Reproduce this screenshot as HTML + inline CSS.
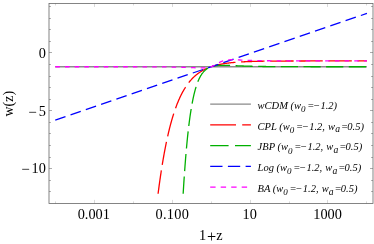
<!DOCTYPE html>
<html><head><meta charset="utf-8"><style>
html,body{margin:0;padding:0;background:#fff;}
svg{display:block;font-family:"Liberation Serif",serif;will-change:transform;}
text{fill:#000;}
</style></head><body>
<svg width="374" height="244" viewBox="0 0 374 244">
<rect width="374" height="244" fill="#fff"/>
<g id="curves">
<path d="M55.25 66.74 L366.93 66.74" fill="none" stroke="#8a8a8a" stroke-width="1.3"/>
<path d="M158.09 193.70 L158.10 193.55 L158.30 192.03 L158.49 190.53 L158.69 189.05 L158.88 187.58 L159.08 186.13 L159.27 184.70 L159.47 183.28 L159.66 181.88 L159.86 180.50 L160.05 179.13 L160.25 177.78 L160.44 176.44 L160.64 175.12 L160.83 173.81 L161.03 172.52 L161.22 171.24 L161.42 169.98 L161.61 168.73 L161.81 167.50 L162.00 166.28 L162.20 165.07 L162.39 163.88 L162.58 162.70 L162.78 161.54 L162.97 160.39 L163.17 159.25 L163.36 158.12 L163.56 157.01 L163.75 155.91 L163.95 154.82 L164.14 153.75 L164.34 152.69 L164.53 151.64 L164.73 150.60 L164.92 149.57 L165.12 148.56 L165.31 147.56 L165.51 146.56 L165.70 145.58 L165.90 144.62 L166.09 143.66 L166.29 142.71 L166.48 141.78 L166.68 140.85 L166.87 139.94 L167.07 139.03 L167.26 138.14 L167.45 137.25 L167.65 136.38 L167.84 135.52 L168.04 134.66 L168.23 133.82 L168.43 132.99 L168.62 132.16 L168.82 131.35 L169.01 130.54 L169.21 129.74 L169.40 128.96 L169.60 128.18 L169.79 127.41 L169.99 126.65 L170.18 125.90 L170.38 125.15 L170.57 124.42 L170.77 123.69 L170.96 122.97 L171.16 122.26 L171.35 121.56 L171.55 120.87 L171.74 120.18 L171.94 119.50 L172.13 118.83 L172.32 118.17 L172.52 117.52 L172.71 116.87 L172.91 116.23 L173.10 115.60 L173.30 114.97 L173.49 114.35 L173.69 113.74 L173.88 113.14 L174.08 112.54 L174.27 111.95 L174.47 111.36 L174.66 110.79 L174.86 110.22 L175.05 109.65 L175.25 109.10 L175.44 108.54 L175.64 108.00 L175.83 107.46 L176.03 106.93 L176.22 106.40 L176.42 105.88 L176.61 105.37 L176.81 104.86 L177.00 104.36 L177.19 103.86 L177.39 103.37 L177.58 102.88 L177.78 102.40 L177.97 101.93 L178.17 101.46 L178.36 101.00 L178.56 100.54 L178.75 100.08 L178.95 99.64 L179.14 99.19 L179.34 98.76 L179.53 98.32 L179.73 97.90 L179.92 97.47 L180.12 97.05 L180.31 96.64 L180.51 96.23 L180.70 95.83 L180.90 95.43 L181.09 95.04 L181.29 94.65 L181.48 94.26 L181.68 93.88 L181.87 93.50 L182.06 93.13 L182.26 92.76 L182.45 92.40 L182.65 92.04 L182.84 91.68 L183.04 91.33 L183.23 90.98 L183.43 90.64 L183.62 90.30 L183.82 89.96 L184.01 89.63 L184.21 89.30 L184.40 88.98 L184.60 88.66 L184.79 88.34 L184.99 88.03 L185.18 87.72 L185.38 87.41 L185.57 87.11 L185.77 86.81 L185.96 86.51 L186.16 86.22 L186.35 85.93 L186.55 85.64 L186.74 85.36 L186.93 85.08 L187.13 84.81 L187.32 84.53 L187.52 84.26 L187.71 84.00 L187.91 83.73 L188.10 83.47 L188.30 83.21 L188.49 82.96 L188.69 82.71 L188.88 82.46 L189.08 82.21 L189.27 81.97 L189.47 81.73 L189.66 81.49 L189.86 81.25 L190.05 81.02 L190.25 80.79 L190.44 80.57 L190.64 80.34 L190.83 80.12 L191.03 79.90 L191.22 79.68 L191.42 79.47 L191.61 79.26 L191.80 79.05 L192.00 78.84 L192.19 78.64 L192.39 78.43 L192.58 78.23 L192.78 78.03 L192.97 77.84 L193.17 77.65 L193.36 77.45 L193.56 77.27 L193.75 77.08 L193.95 76.89 L194.14 76.71 L194.34 76.53 L194.53 76.35 L194.73 76.18 L194.92 76.00 L195.12 75.83 L195.31 75.66 L195.51 75.49 L195.70 75.33 L195.90 75.16 L196.09 75.00 L196.29 74.84 L196.48 74.68 L196.67 74.52 L196.87 74.37 L197.06 74.21 L197.26 74.06 L197.45 73.91 L197.65 73.76 L197.84 73.62 L198.04 73.47 L198.23 73.33 L198.43 73.19 L198.62 73.05 L198.82 72.91 L199.01 72.77 L199.21 72.64 L199.40 72.50 L199.60 72.37 L199.79 72.24 L199.99 72.11 L200.18 71.98 L200.38 71.86 L200.57 71.73 L200.77 71.61 L200.96 71.49 L201.16 71.37 L201.35 71.25 L201.54 71.13 L201.74 71.01 L201.93 70.90 L202.13 70.78 L202.32 70.67 L202.52 70.56 L202.71 70.45 L202.91 70.34 L203.10 70.23 L203.30 70.13 L203.49 70.02 L203.69 69.92 L203.88 69.82 L204.08 69.71 L204.27 69.61 L204.47 69.51 L204.66 69.42 L204.86 69.32 L205.05 69.22 L205.25 69.13 L205.44 69.04 L205.64 68.94 L205.83 68.85 L206.03 68.76 L206.22 68.67 L206.41 68.58 L206.61 68.50 L206.80 68.41 L207.00 68.32 L207.19 68.24 L207.39 68.16 L207.58 68.07 L207.78 67.99 L207.97 67.91 L208.17 67.83 L208.36 67.75 L208.56 67.68 L208.75 67.60 L208.95 67.52 L209.14 67.45 L209.34 67.37 L209.53 67.30 L209.73 67.23 L209.92 67.16 L210.12 67.08 L210.31 67.01 L210.51 66.94 L210.70 66.88 L210.90 66.81 L211.09 66.74 L211.28 66.67 L211.48 66.61 L211.67 66.54 L211.87 66.48 L212.06 66.42 L212.26 66.35 L212.45 66.29 L212.65 66.23 L212.84 66.17 L213.04 66.11 L213.23 66.05 L213.43 65.99 L213.62 65.94 L213.82 65.88 L214.01 65.82 L214.21 65.77 L214.40 65.71 L214.60 65.66 L214.79 65.60 L214.99 65.55 L215.18 65.50 L215.38 65.45 L215.57 65.39 L215.77 65.34 L215.96 65.29 L216.15 65.24 L216.35 65.19 L216.54 65.15 L216.74 65.10 L216.93 65.05 L217.13 65.00 L217.32 64.96 L217.52 64.91 L217.71 64.87 L217.91 64.82 L218.10 64.78 L218.30 64.73 L218.49 64.69 L218.69 64.65 L218.88 64.61 L219.08 64.56 L219.27 64.52 L219.47 64.48 L219.66 64.44 L219.86 64.40 L220.05 64.36 L220.25 64.32 L220.44 64.28 L220.64 64.25 L220.83 64.21 L221.02 64.17 L221.22 64.13 L221.41 64.10 L221.61 64.06 L221.80 64.03 L222.00 63.99 L222.19 63.96 L222.39 63.92 L222.58 63.89 L222.78 63.85 L222.97 63.82 L223.17 63.79 L223.36 63.76 L223.56 63.72 L223.75 63.69 L223.95 63.66 L224.14 63.63 L224.34 63.60 L224.53 63.57 L224.73 63.54 L224.92 63.51 L225.12 63.48 L225.31 63.45 L225.51 63.42 L225.70 63.39 L225.89 63.37 L226.09 63.34 L226.28 63.31 L226.48 63.28 L226.67 63.26 L226.87 63.23 L227.06 63.20 L227.26 63.18 L227.45 63.15 L227.65 63.13 L227.84 63.10 L228.04 63.08 L228.23 63.05 L228.43 63.03 L228.62 63.01 L228.82 62.98 L229.01 62.96 L229.21 62.94 L229.40 62.91 L229.60 62.89 L229.79 62.87 L229.99 62.85 L230.18 62.83 L230.38 62.80 L230.57 62.78 L230.76 62.76 L230.96 62.74 L231.15 62.72 L231.35 62.70 L231.54 62.68 L231.74 62.66 L231.93 62.64 L232.13 62.62 L232.32 62.60 L232.52 62.58 L232.71 62.57 L232.91 62.55 L233.10 62.53 L233.30 62.51 L233.49 62.49 L233.69 62.48 L233.88 62.46 L234.08 62.44 L234.27 62.42 L234.47 62.41 L234.66 62.39 L234.86 62.37 L235.05 62.36 L235.25 62.34 L235.44 62.33 L235.63 62.31 L235.83 62.29 L236.02 62.28 L236.22 62.26 L236.41 62.25 L236.61 62.23 L236.80 62.22 L237.00 62.20 L237.19 62.19 L237.39 62.18 L237.58 62.16 L237.78 62.15 L237.97 62.13 L238.17 62.12 L238.36 62.11 L238.56 62.09 L238.75 62.08 L238.95 62.07 L239.14 62.06 L239.34 62.04 L239.53 62.03 L239.73 62.02 L239.92 62.01 L240.12 61.99 L240.31 61.98 L240.50 61.97 L240.70 61.96 L240.89 61.95 L241.09 61.94 L241.28 61.92 L241.48 61.91 L241.67 61.90 L241.87 61.89 L242.06 61.88 L242.26 61.87 L242.45 61.86 L242.65 61.85 L242.84 61.84 L243.04 61.83 L243.23 61.82 L243.43 61.81 L243.62 61.80 L243.82 61.79 L244.01 61.78 L244.21 61.77 L244.40 61.76 L244.60 61.75 L244.79 61.74 L244.99 61.73 L245.18 61.73 L245.37 61.72 L245.57 61.71 L245.76 61.70 L245.96 61.69 L246.15 61.68 L246.35 61.67 L246.54 61.67 L246.74 61.66 L246.93 61.65 L247.13 61.64 L247.32 61.63 L247.52 61.63 L247.71 61.62 L247.91 61.61 L248.10 61.60 L248.30 61.60 L248.49 61.59 L248.69 61.58 L248.88 61.57 L249.08 61.57 L249.27 61.56 L249.47 61.55 L249.66 61.55 L249.86 61.54 L250.05 61.53 L250.24 61.53 L250.44 61.52 L250.63 61.51 L250.83 61.51 L251.02 61.50 L251.22 61.49 L251.41 61.49 L251.61 61.48 L251.80 61.48 L252.00 61.47 L252.19 61.46 L252.39 61.46 L252.58 61.45 L252.78 61.45 L252.97 61.44 L253.17 61.43 L253.36 61.43 L253.56 61.42 L253.75 61.42 L253.95 61.41 L254.14 61.41 L254.34 61.40 L254.53 61.40 L254.73 61.39 L254.92 61.39 L255.11 61.38 L255.31 61.38 L255.50 61.37 L255.70 61.37 L255.89 61.36 L256.09 61.36 L256.28 61.35 L256.48 61.35 L256.67 61.34 L256.87 61.34 L257.06 61.34 L257.26 61.33 L257.45 61.33 L257.65 61.32 L257.84 61.32 L258.04 61.31 L258.23 61.31 L258.43 61.31 L258.62 61.30 L258.82 61.30 L259.01 61.29 L259.21 61.29 L259.40 61.29 L259.60 61.28 L259.79 61.28 L259.98 61.27 L260.18 61.27 L260.37 61.27 L260.57 61.26 L260.76 61.26 L260.96 61.26 L261.15 61.25 L261.35 61.25 L261.54 61.25 L261.74 61.24 L261.93 61.24 L262.13 61.24 L262.32 61.23 L262.52 61.23 L262.71 61.23 L262.91 61.22 L263.10 61.22 L263.30 61.22 L263.49 61.21 L263.69 61.21 L263.88 61.21 L264.08 61.21 L264.27 61.20 L264.47 61.20 L264.66 61.20 L264.85 61.19 L265.05 61.19 L265.24 61.19 L265.44 61.19 L265.63 61.18 L265.83 61.18 L266.02 61.18 L266.22 61.18 L266.41 61.17 L266.61 61.17 L266.80 61.17 L267.00 61.17 L267.19 61.16 L267.39 61.16 L267.58 61.16 L267.78 61.16 L267.97 61.15 L268.17 61.15 L268.36 61.15 L268.56 61.15 L268.75 61.14 L268.95 61.14 L269.14 61.14 L269.34 61.14 L269.53 61.14 L269.72 61.13 L269.92 61.13 L270.11 61.13 L270.31 61.13 L270.50 61.13 L270.70 61.12 L270.89 61.12 L271.09 61.12 L271.28 61.12 L271.48 61.12 L271.67 61.11 L271.87 61.11 L272.06 61.11 L272.26 61.11 L272.45 61.11 L272.65 61.11 L272.84 61.10 L273.04 61.10 L273.23 61.10 L273.43 61.10 L273.62 61.10 L273.82 61.10 L274.01 61.09 L274.21 61.09 L274.40 61.09 L274.59 61.09 L274.79 61.09 L274.98 61.09 L275.18 61.08 L275.37 61.08 L275.57 61.08 L275.76 61.08 L275.96 61.08 L276.15 61.08 L276.35 61.08 L276.54 61.07 L276.74 61.07 L276.93 61.07 L277.13 61.07 L277.32 61.07 L277.52 61.07 L277.71 61.07 L277.91 61.06 L278.10 61.06 L278.30 61.06 L278.49 61.06 L278.69 61.06 L278.88 61.06 L279.08 61.06 L279.27 61.06 L279.46 61.05 L279.66 61.05 L279.85 61.05 L280.05 61.05 L280.24 61.05 L280.44 61.05 L280.63 61.05 L280.83 61.05 L281.02 61.05 L281.22 61.04 L281.41 61.04 L281.61 61.04 L281.80 61.04 L282.00 61.04 L282.19 61.04 L282.39 61.04 L282.58 61.04 L282.78 61.04 L282.97 61.04 L283.17 61.03 L283.36 61.03 L283.56 61.03 L283.75 61.03 L283.95 61.03 L284.14 61.03 L284.33 61.03 L284.53 61.03 L284.72 61.03 L284.92 61.03 L285.11 61.03 L285.31 61.03 L285.50 61.02 L285.70 61.02 L285.89 61.02 L286.09 61.02 L286.28 61.02 L286.48 61.02 L286.67 61.02 L286.87 61.02 L287.06 61.02 L287.26 61.02 L287.45 61.02 L287.65 61.02 L287.84 61.02 L288.04 61.01 L288.23 61.01 L288.43 61.01 L288.62 61.01 L288.82 61.01 L289.01 61.01 L289.20 61.01 L289.40 61.01 L289.59 61.01 L289.79 61.01 L289.98 61.01 L290.18 61.01 L290.37 61.01 L290.57 61.01 L290.76 61.01 L290.96 61.00 L291.15 61.00 L291.35 61.00 L291.54 61.00 L291.74 61.00 L291.93 61.00 L292.13 61.00 L292.32 61.00 L292.52 61.00 L292.71 61.00 L292.91 61.00 L293.10 61.00 L293.30 61.00 L293.49 61.00 L293.69 61.00 L293.88 61.00 L294.07 61.00 L294.27 61.00 L294.46 61.00 L294.66 60.99 L294.85 60.99 L295.05 60.99 L295.24 60.99 L295.44 60.99 L295.63 60.99 L295.83 60.99 L296.02 60.99 L296.22 60.99 L296.41 60.99 L296.61 60.99 L296.80 60.99 L297.00 60.99 L297.19 60.99 L297.39 60.99 L297.58 60.99 L297.78 60.99 L297.97 60.99 L298.17 60.99 L298.36 60.99 L298.56 60.99 L298.75 60.99 L298.94 60.99 L299.14 60.99 L299.33 60.98 L299.53 60.98 L299.72 60.98 L299.92 60.98 L300.11 60.98 L300.31 60.98 L300.50 60.98 L300.70 60.98 L300.89 60.98 L301.09 60.98 L301.28 60.98 L301.48 60.98 L301.67 60.98 L301.87 60.98 L302.06 60.98 L302.26 60.98 L302.45 60.98 L302.65 60.98 L302.84 60.98 L303.04 60.98 L303.23 60.98 L303.43 60.98 L303.62 60.98 L303.81 60.98 L304.01 60.98 L304.20 60.98 L304.40 60.98 L304.59 60.98 L304.79 60.98 L304.98 60.98 L305.18 60.98 L305.37 60.98 L305.57 60.97 L305.76 60.97 L305.96 60.97 L306.15 60.97 L306.35 60.97 L306.54 60.97 L306.74 60.97 L306.93 60.97 L307.13 60.97 L307.32 60.97 L307.52 60.97 L307.71 60.97 L307.91 60.97 L308.10 60.97 L308.30 60.97 L308.49 60.97 L308.68 60.97 L308.88 60.97 L309.07 60.97 L309.27 60.97 L309.46 60.97 L309.66 60.97 L309.85 60.97 L310.05 60.97 L310.24 60.97 L310.44 60.97 L310.63 60.97 L310.83 60.97 L311.02 60.97 L311.22 60.97 L311.41 60.97 L311.61 60.97 L311.80 60.97 L312.00 60.97 L312.19 60.97 L312.39 60.97 L312.58 60.97 L312.78 60.97 L312.97 60.97 L313.17 60.97 L313.36 60.97 L313.55 60.97 L313.75 60.97 L313.94 60.97 L314.14 60.97 L314.33 60.97 L314.53 60.97 L314.72 60.97 L314.92 60.97 L315.11 60.97 L315.31 60.97 L315.50 60.97 L315.70 60.97 L315.89 60.97 L316.09 60.96 L316.28 60.96 L316.48 60.96 L316.67 60.96 L316.87 60.96 L317.06 60.96 L317.26 60.96 L317.45 60.96 L317.65 60.96 L317.84 60.96 L318.04 60.96 L318.23 60.96 L318.42 60.96 L318.62 60.96 L318.81 60.96 L319.01 60.96 L319.20 60.96 L319.40 60.96 L319.59 60.96 L319.79 60.96 L319.98 60.96 L320.18 60.96 L320.37 60.96 L320.57 60.96 L320.76 60.96 L320.96 60.96 L321.15 60.96 L321.35 60.96 L321.54 60.96 L321.74 60.96 L321.93 60.96 L322.13 60.96 L322.32 60.96 L322.52 60.96 L322.71 60.96 L322.91 60.96 L323.10 60.96 L323.29 60.96 L323.49 60.96 L323.68 60.96 L323.88 60.96 L324.07 60.96 L324.27 60.96 L324.46 60.96 L324.66 60.96 L324.85 60.96 L325.05 60.96 L325.24 60.96 L325.44 60.96 L325.63 60.96 L325.83 60.96 L326.02 60.96 L326.22 60.96 L326.41 60.96 L326.61 60.96 L326.80 60.96 L327.00 60.96 L327.19 60.96 L327.39 60.96 L327.58 60.96 L327.78 60.96 L327.97 60.96 L328.16 60.96 L328.36 60.96 L328.55 60.96 L328.75 60.96 L328.94 60.96 L329.14 60.96 L329.33 60.96 L329.53 60.96 L329.72 60.96 L329.92 60.96 L330.11 60.96 L330.31 60.96 L330.50 60.96 L330.70 60.96 L330.89 60.96 L331.09 60.96 L331.28 60.96 L331.48 60.96 L331.67 60.96 L331.87 60.96 L332.06 60.96 L332.26 60.96 L332.45 60.96 L332.65 60.96 L332.84 60.96 L333.03 60.96 L333.23 60.96 L333.42 60.96 L333.62 60.96 L333.81 60.96 L334.01 60.96 L334.20 60.96 L334.40 60.96 L334.59 60.96 L334.79 60.96 L334.98 60.96 L335.18 60.96 L335.37 60.96 L335.57 60.96 L335.76 60.96 L335.96 60.96 L336.15 60.96 L336.35 60.96 L336.54 60.96 L336.74 60.96 L336.93 60.96 L337.13 60.96 L337.32 60.96 L337.52 60.96 L337.71 60.96 L337.90 60.96 L338.10 60.96 L338.29 60.96 L338.49 60.96 L338.68 60.96 L338.88 60.96 L339.07 60.96 L339.27 60.96 L339.46 60.96 L339.66 60.96 L339.85 60.96 L340.05 60.96 L340.24 60.96 L340.44 60.96 L340.63 60.96 L340.83 60.96 L341.02 60.96 L341.22 60.96 L341.41 60.96 L341.61 60.96 L341.80 60.96 L342.00 60.96 L342.19 60.96 L342.39 60.96 L342.58 60.96 L342.77 60.96 L342.97 60.96 L343.16 60.96 L343.36 60.96 L343.55 60.96 L343.75 60.96 L343.94 60.96 L344.14 60.96 L344.33 60.96 L344.53 60.96 L344.72 60.96 L344.92 60.96 L345.11 60.96 L345.31 60.96 L345.50 60.96 L345.70 60.96 L345.89 60.96 L346.09 60.96 L346.28 60.96 L346.48 60.96 L346.67 60.96 L346.87 60.96 L347.06 60.96 L347.26 60.96 L347.45 60.96 L347.64 60.96 L347.84 60.95 L348.03 60.95 L348.23 60.95 L348.42 60.95 L348.62 60.95 L348.81 60.95 L349.01 60.95 L349.20 60.95 L349.40 60.95 L349.59 60.95 L349.79 60.95 L349.98 60.95 L350.18 60.95 L350.37 60.95 L350.57 60.95 L350.76 60.95 L350.96 60.95 L351.15 60.95 L351.35 60.95 L351.54 60.95 L351.74 60.95 L351.93 60.95 L352.13 60.95 L352.32 60.95 L352.51 60.95 L352.71 60.95 L352.90 60.95 L353.10 60.95 L353.29 60.95 L353.49 60.95 L353.68 60.95 L353.88 60.95 L354.07 60.95 L354.27 60.95 L354.46 60.95 L354.66 60.95 L354.85 60.95 L355.05 60.95 L355.24 60.95 L355.44 60.95 L355.63 60.95 L355.83 60.95 L356.02 60.95 L356.22 60.95 L356.41 60.95 L356.61 60.95 L356.80 60.95 L357.00 60.95 L357.19 60.95 L357.38 60.95 L357.58 60.95 L357.77 60.95 L357.97 60.95 L358.16 60.95 L358.36 60.95 L358.55 60.95 L358.75 60.95 L358.94 60.95 L359.14 60.95 L359.33 60.95 L359.53 60.95 L359.72 60.95 L359.92 60.95 L360.11 60.95 L360.31 60.95 L360.50 60.95 L360.70 60.95 L360.89 60.95 L361.09 60.95 L361.28 60.95 L361.48 60.95 L361.67 60.95 L361.87 60.95 L362.06 60.95 L362.25 60.95 L362.45 60.95 L362.64 60.95 L362.84 60.95 L363.03 60.95 L363.23 60.95 L363.42 60.95 L363.62 60.95 L363.81 60.95 L364.01 60.95 L364.20 60.95 L364.40 60.95 L364.59 60.95 L364.79 60.95 L364.98 60.95 L365.18 60.95 L365.37 60.95 L365.57 60.95 L365.76 60.95 L365.96 60.95 L366.15 60.95 L366.35 60.95 L366.54 60.95 L366.74 60.95 L366.93 60.95" fill="none" stroke="#ff0000" stroke-width="1.3" stroke-dasharray="23.5 5.6"/>
<path d="M183.16 193.70 L183.23 192.50 L183.43 189.30 L183.62 186.17 L183.82 183.12 L184.01 180.14 L184.21 177.24 L184.40 174.40 L184.60 171.63 L184.79 168.93 L184.99 166.30 L185.18 163.72 L185.38 161.21 L185.57 158.76 L185.77 156.37 L185.96 154.04 L186.16 151.76 L186.35 149.54 L186.55 147.38 L186.74 145.26 L186.93 143.20 L187.13 141.18 L187.32 139.22 L187.52 137.30 L187.71 135.43 L187.91 133.61 L188.10 131.83 L188.30 130.09 L188.49 128.40 L188.69 126.75 L188.88 125.13 L189.08 123.56 L189.27 122.03 L189.47 120.53 L189.66 119.07 L189.86 117.65 L190.05 116.26 L190.25 114.90 L190.44 113.58 L190.64 112.30 L190.83 111.04 L191.03 109.81 L191.22 108.62 L191.42 107.45 L191.61 106.32 L191.80 105.21 L192.00 104.13 L192.19 103.08 L192.39 102.05 L192.58 101.05 L192.78 100.07 L192.97 99.12 L193.17 98.19 L193.36 97.29 L193.56 96.40 L193.75 95.54 L193.95 94.71 L194.14 93.89 L194.34 93.09 L194.53 92.32 L194.73 91.56 L194.92 90.82 L195.12 90.10 L195.31 89.40 L195.51 88.72 L195.70 88.06 L195.90 87.41 L196.09 86.78 L196.29 86.16 L196.48 85.56 L196.67 84.98 L196.87 84.41 L197.06 83.86 L197.26 83.32 L197.45 82.79 L197.65 82.28 L197.84 81.78 L198.04 81.30 L198.23 80.82 L198.43 80.36 L198.62 79.91 L198.82 79.48 L199.01 79.05 L199.21 78.64 L199.40 78.24 L199.60 77.84 L199.79 77.46 L199.99 77.09 L200.18 76.73 L200.38 76.38 L200.57 76.03 L200.77 75.70 L200.96 75.37 L201.16 75.06 L201.35 74.75 L201.54 74.45 L201.74 74.16 L201.93 73.88 L202.13 73.60 L202.32 73.34 L202.52 73.08 L202.71 72.82 L202.91 72.58 L203.10 72.34 L203.30 72.11 L203.49 71.88 L203.69 71.66 L203.88 71.45 L204.08 71.24 L204.27 71.04 L204.47 70.84 L204.66 70.65 L204.86 70.47 L205.05 70.29 L205.25 70.11 L205.44 69.94 L205.64 69.78 L205.83 69.62 L206.03 69.47 L206.22 69.32 L206.41 69.17 L206.61 69.03 L206.80 68.89 L207.00 68.76 L207.19 68.63 L207.39 68.50 L207.58 68.38 L207.78 68.26 L207.97 68.15 L208.17 68.04 L208.36 67.93 L208.56 67.83 L208.75 67.73 L208.95 67.63 L209.14 67.53 L209.34 67.44 L209.53 67.35 L209.73 67.27 L209.92 67.18 L210.12 67.10 L210.31 67.03 L210.51 66.95 L210.70 66.88 L210.90 66.81 L211.09 66.74 L211.28 66.68 L211.48 66.61 L211.67 66.55 L211.87 66.49 L212.06 66.44 L212.26 66.38 L212.45 66.33 L212.65 66.28 L212.84 66.23 L213.04 66.18 L213.23 66.13 L213.43 66.09 L213.62 66.05 L213.82 66.01 L214.01 65.97 L214.21 65.93 L214.40 65.90 L214.60 65.86 L214.79 65.83 L214.99 65.80 L215.18 65.77 L215.38 65.74 L215.57 65.71 L215.77 65.68 L215.96 65.66 L216.15 65.63 L216.35 65.61 L216.54 65.59 L216.74 65.56 L216.93 65.54 L217.13 65.53 L217.32 65.51 L217.52 65.49 L217.71 65.47 L217.91 65.46 L218.10 65.44 L218.30 65.43 L218.49 65.42 L218.69 65.40 L218.88 65.39 L219.08 65.38 L219.27 65.37 L219.47 65.36 L219.66 65.36 L219.86 65.35 L220.05 65.34 L220.25 65.33 L220.44 65.33 L220.64 65.32 L220.83 65.32 L221.02 65.31 L221.22 65.31 L221.41 65.31 L221.61 65.30 L221.80 65.30 L222.00 65.30 L222.19 65.30 L222.39 65.30 L222.58 65.29 L222.78 65.29 L222.97 65.29 L223.17 65.29 L223.36 65.30 L223.56 65.30 L223.75 65.30 L223.95 65.30 L224.14 65.30 L224.34 65.30 L224.53 65.31 L224.73 65.31 L224.92 65.31 L225.12 65.32 L225.31 65.32 L225.51 65.33 L225.70 65.33 L225.89 65.33 L226.09 65.34 L226.28 65.34 L226.48 65.35 L226.67 65.35 L226.87 65.36 L227.06 65.37 L227.26 65.37 L227.45 65.38 L227.65 65.38 L227.84 65.39 L228.04 65.40 L228.23 65.40 L228.43 65.41 L228.62 65.42 L228.82 65.42 L229.01 65.43 L229.21 65.44 L229.40 65.44 L229.60 65.45 L229.79 65.46 L229.99 65.47 L230.18 65.47 L230.38 65.48 L230.57 65.49 L230.76 65.50 L230.96 65.51 L231.15 65.51 L231.35 65.52 L231.54 65.53 L231.74 65.54 L231.93 65.55 L232.13 65.55 L232.32 65.56 L232.52 65.57 L232.71 65.58 L232.91 65.59 L233.10 65.59 L233.30 65.60 L233.49 65.61 L233.69 65.62 L233.88 65.63 L234.08 65.64 L234.27 65.64 L234.47 65.65 L234.66 65.66 L234.86 65.67 L235.05 65.68 L235.25 65.69 L235.44 65.69 L235.63 65.70 L235.83 65.71 L236.02 65.72 L236.22 65.73 L236.41 65.74 L236.61 65.74 L236.80 65.75 L237.00 65.76 L237.19 65.77 L237.39 65.78 L237.58 65.78 L237.78 65.79 L237.97 65.80 L238.17 65.81 L238.36 65.82 L238.56 65.82 L238.75 65.83 L238.95 65.84 L239.14 65.85 L239.34 65.86 L239.53 65.86 L239.73 65.87 L239.92 65.88 L240.12 65.89 L240.31 65.89 L240.50 65.90 L240.70 65.91 L240.89 65.92 L241.09 65.93 L241.28 65.93 L241.48 65.94 L241.67 65.95 L241.87 65.95 L242.06 65.96 L242.26 65.97 L242.45 65.98 L242.65 65.98 L242.84 65.99 L243.04 66.00 L243.23 66.00 L243.43 66.01 L243.62 66.02 L243.82 66.03 L244.01 66.03 L244.21 66.04 L244.40 66.05 L244.60 66.05 L244.79 66.06 L244.99 66.07 L245.18 66.07 L245.37 66.08 L245.57 66.09 L245.76 66.09 L245.96 66.10 L246.15 66.10 L246.35 66.11 L246.54 66.12 L246.74 66.12 L246.93 66.13 L247.13 66.14 L247.32 66.14 L247.52 66.15 L247.71 66.15 L247.91 66.16 L248.10 66.16 L248.30 66.17 L248.49 66.18 L248.69 66.18 L248.88 66.19 L249.08 66.19 L249.27 66.20 L249.47 66.20 L249.66 66.21 L249.86 66.21 L250.05 66.22 L250.24 66.23 L250.44 66.23 L250.63 66.24 L250.83 66.24 L251.02 66.25 L251.22 66.25 L251.41 66.26 L251.61 66.26 L251.80 66.27 L252.00 66.27 L252.19 66.28 L252.39 66.28 L252.58 66.29 L252.78 66.29 L252.97 66.30 L253.17 66.30 L253.36 66.30 L253.56 66.31 L253.75 66.31 L253.95 66.32 L254.14 66.32 L254.34 66.33 L254.53 66.33 L254.73 66.34 L254.92 66.34 L255.11 66.34 L255.31 66.35 L255.50 66.35 L255.70 66.36 L255.89 66.36 L256.09 66.36 L256.28 66.37 L256.48 66.37 L256.67 66.38 L256.87 66.38 L257.06 66.38 L257.26 66.39 L257.45 66.39 L257.65 66.40 L257.84 66.40 L258.04 66.40 L258.23 66.41 L258.43 66.41 L258.62 66.41 L258.82 66.42 L259.01 66.42 L259.21 66.42 L259.40 66.43 L259.60 66.43 L259.79 66.43 L259.98 66.44 L260.18 66.44 L260.37 66.44 L260.57 66.45 L260.76 66.45 L260.96 66.45 L261.15 66.46 L261.35 66.46 L261.54 66.46 L261.74 66.47 L261.93 66.47 L262.13 66.47 L262.32 66.47 L262.52 66.48 L262.71 66.48 L262.91 66.48 L263.10 66.49 L263.30 66.49 L263.49 66.49 L263.69 66.49 L263.88 66.50 L264.08 66.50 L264.27 66.50 L264.47 66.50 L264.66 66.51 L264.85 66.51 L265.05 66.51 L265.24 66.52 L265.44 66.52 L265.63 66.52 L265.83 66.52 L266.02 66.52 L266.22 66.53 L266.41 66.53 L266.61 66.53 L266.80 66.53 L267.00 66.54 L267.19 66.54 L267.39 66.54 L267.58 66.54 L267.78 66.55 L267.97 66.55 L268.17 66.55 L268.36 66.55 L268.56 66.55 L268.75 66.56 L268.95 66.56 L269.14 66.56 L269.34 66.56 L269.53 66.56 L269.72 66.57 L269.92 66.57 L270.11 66.57 L270.31 66.57 L270.50 66.57 L270.70 66.58 L270.89 66.58 L271.09 66.58 L271.28 66.58 L271.48 66.58 L271.67 66.58 L271.87 66.59 L272.06 66.59 L272.26 66.59 L272.45 66.59 L272.65 66.59 L272.84 66.59 L273.04 66.60 L273.23 66.60 L273.43 66.60 L273.62 66.60 L273.82 66.60 L274.01 66.60 L274.21 66.61 L274.40 66.61 L274.59 66.61 L274.79 66.61 L274.98 66.61 L275.18 66.61 L275.37 66.61 L275.57 66.62 L275.76 66.62 L275.96 66.62 L276.15 66.62 L276.35 66.62 L276.54 66.62 L276.74 66.62 L276.93 66.63 L277.13 66.63 L277.32 66.63 L277.52 66.63 L277.71 66.63 L277.91 66.63 L278.10 66.63 L278.30 66.63 L278.49 66.64 L278.69 66.64 L278.88 66.64 L279.08 66.64 L279.27 66.64 L279.46 66.64 L279.66 66.64 L279.85 66.64 L280.05 66.64 L280.24 66.65 L280.44 66.65 L280.63 66.65 L280.83 66.65 L281.02 66.65 L281.22 66.65 L281.41 66.65 L281.61 66.65 L281.80 66.65 L282.00 66.65 L282.19 66.66 L282.39 66.66 L282.58 66.66 L282.78 66.66 L282.97 66.66 L283.17 66.66 L283.36 66.66 L283.56 66.66 L283.75 66.66 L283.95 66.66 L284.14 66.67 L284.33 66.67 L284.53 66.67 L284.72 66.67 L284.92 66.67 L285.11 66.67 L285.31 66.67 L285.50 66.67 L285.70 66.67 L285.89 66.67 L286.09 66.67 L286.28 66.67 L286.48 66.67 L286.67 66.68 L286.87 66.68 L287.06 66.68 L287.26 66.68 L287.45 66.68 L287.65 66.68 L287.84 66.68 L288.04 66.68 L288.23 66.68 L288.43 66.68 L288.62 66.68 L288.82 66.68 L289.01 66.68 L289.20 66.68 L289.40 66.69 L289.59 66.69 L289.79 66.69 L289.98 66.69 L290.18 66.69 L290.37 66.69 L290.57 66.69 L290.76 66.69 L290.96 66.69 L291.15 66.69 L291.35 66.69 L291.54 66.69 L291.74 66.69 L291.93 66.69 L292.13 66.69 L292.32 66.69 L292.52 66.69 L292.71 66.70 L292.91 66.70 L293.10 66.70 L293.30 66.70 L293.49 66.70 L293.69 66.70 L293.88 66.70 L294.07 66.70 L294.27 66.70 L294.46 66.70 L294.66 66.70 L294.85 66.70 L295.05 66.70 L295.24 66.70 L295.44 66.70 L295.63 66.70 L295.83 66.70 L296.02 66.70 L296.22 66.70 L296.41 66.70 L296.61 66.70 L296.80 66.70 L297.00 66.71 L297.19 66.71 L297.39 66.71 L297.58 66.71 L297.78 66.71 L297.97 66.71 L298.17 66.71 L298.36 66.71 L298.56 66.71 L298.75 66.71 L298.94 66.71 L299.14 66.71 L299.33 66.71 L299.53 66.71 L299.72 66.71 L299.92 66.71 L300.11 66.71 L300.31 66.71 L300.50 66.71 L300.70 66.71 L300.89 66.71 L301.09 66.71 L301.28 66.71 L301.48 66.71 L301.67 66.71 L301.87 66.71 L302.06 66.71 L302.26 66.71 L302.45 66.72 L302.65 66.72 L302.84 66.72 L303.04 66.72 L303.23 66.72 L303.43 66.72 L303.62 66.72 L303.81 66.72 L304.01 66.72 L304.20 66.72 L304.40 66.72 L304.59 66.72 L304.79 66.72 L304.98 66.72 L305.18 66.72 L305.37 66.72 L305.57 66.72 L305.76 66.72 L305.96 66.72 L306.15 66.72 L306.35 66.72 L306.54 66.72 L306.74 66.72 L306.93 66.72 L307.13 66.72 L307.32 66.72 L307.52 66.72 L307.71 66.72 L307.91 66.72 L308.10 66.72 L308.30 66.72 L308.49 66.72 L308.68 66.72 L308.88 66.72 L309.07 66.72 L309.27 66.72 L309.46 66.72 L309.66 66.72 L309.85 66.72 L310.05 66.72 L310.24 66.72 L310.44 66.72 L310.63 66.73 L310.83 66.73 L311.02 66.73 L311.22 66.73 L311.41 66.73 L311.61 66.73 L311.80 66.73 L312.00 66.73 L312.19 66.73 L312.39 66.73 L312.58 66.73 L312.78 66.73 L312.97 66.73 L313.17 66.73 L313.36 66.73 L313.55 66.73 L313.75 66.73 L313.94 66.73 L314.14 66.73 L314.33 66.73 L314.53 66.73 L314.72 66.73 L314.92 66.73 L315.11 66.73 L315.31 66.73 L315.50 66.73 L315.70 66.73 L315.89 66.73 L316.09 66.73 L316.28 66.73 L316.48 66.73 L316.67 66.73 L316.87 66.73 L317.06 66.73 L317.26 66.73 L317.45 66.73 L317.65 66.73 L317.84 66.73 L318.04 66.73 L318.23 66.73 L318.42 66.73 L318.62 66.73 L318.81 66.73 L319.01 66.73 L319.20 66.73 L319.40 66.73 L319.59 66.73 L319.79 66.73 L319.98 66.73 L320.18 66.73 L320.37 66.73 L320.57 66.73 L320.76 66.73 L320.96 66.73 L321.15 66.73 L321.35 66.73 L321.54 66.73 L321.74 66.73 L321.93 66.73 L322.13 66.73 L322.32 66.73 L322.52 66.73 L322.71 66.73 L322.91 66.73 L323.10 66.73 L323.29 66.73 L323.49 66.73 L323.68 66.73 L323.88 66.73 L324.07 66.73 L324.27 66.73 L324.46 66.73 L324.66 66.73 L324.85 66.73 L325.05 66.73 L325.24 66.73 L325.44 66.73 L325.63 66.73 L325.83 66.73 L326.02 66.73 L326.22 66.73 L326.41 66.73 L326.61 66.73 L326.80 66.74 L327.00 66.74 L327.19 66.74 L327.39 66.74 L327.58 66.74 L327.78 66.74 L327.97 66.74 L328.16 66.74 L328.36 66.74 L328.55 66.74 L328.75 66.74 L328.94 66.74 L329.14 66.74 L329.33 66.74 L329.53 66.74 L329.72 66.74 L329.92 66.74 L330.11 66.74 L330.31 66.74 L330.50 66.74 L330.70 66.74 L330.89 66.74 L331.09 66.74 L331.28 66.74 L331.48 66.74 L331.67 66.74 L331.87 66.74 L332.06 66.74 L332.26 66.74 L332.45 66.74 L332.65 66.74 L332.84 66.74 L333.03 66.74 L333.23 66.74 L333.42 66.74 L333.62 66.74 L333.81 66.74 L334.01 66.74 L334.20 66.74 L334.40 66.74 L334.59 66.74 L334.79 66.74 L334.98 66.74 L335.18 66.74 L335.37 66.74 L335.57 66.74 L335.76 66.74 L335.96 66.74 L336.15 66.74 L336.35 66.74 L336.54 66.74 L336.74 66.74 L336.93 66.74 L337.13 66.74 L337.32 66.74 L337.52 66.74 L337.71 66.74 L337.90 66.74 L338.10 66.74 L338.29 66.74 L338.49 66.74 L338.68 66.74 L338.88 66.74 L339.07 66.74 L339.27 66.74 L339.46 66.74 L339.66 66.74 L339.85 66.74 L340.05 66.74 L340.24 66.74 L340.44 66.74 L340.63 66.74 L340.83 66.74 L341.02 66.74 L341.22 66.74 L341.41 66.74 L341.61 66.74 L341.80 66.74 L342.00 66.74 L342.19 66.74 L342.39 66.74 L342.58 66.74 L342.77 66.74 L342.97 66.74 L343.16 66.74 L343.36 66.74 L343.55 66.74 L343.75 66.74 L343.94 66.74 L344.14 66.74 L344.33 66.74 L344.53 66.74 L344.72 66.74 L344.92 66.74 L345.11 66.74 L345.31 66.74 L345.50 66.74 L345.70 66.74 L345.89 66.74 L346.09 66.74 L346.28 66.74 L346.48 66.74 L346.67 66.74 L346.87 66.74 L347.06 66.74 L347.26 66.74 L347.45 66.74 L347.64 66.74 L347.84 66.74 L348.03 66.74 L348.23 66.74 L348.42 66.74 L348.62 66.74 L348.81 66.74 L349.01 66.74 L349.20 66.74 L349.40 66.74 L349.59 66.74 L349.79 66.74 L349.98 66.74 L350.18 66.74 L350.37 66.74 L350.57 66.74 L350.76 66.74 L350.96 66.74 L351.15 66.74 L351.35 66.74 L351.54 66.74 L351.74 66.74 L351.93 66.74 L352.13 66.74 L352.32 66.74 L352.51 66.74 L352.71 66.74 L352.90 66.74 L353.10 66.74 L353.29 66.74 L353.49 66.74 L353.68 66.74 L353.88 66.74 L354.07 66.74 L354.27 66.74 L354.46 66.74 L354.66 66.74 L354.85 66.74 L355.05 66.74 L355.24 66.74 L355.44 66.74 L355.63 66.74 L355.83 66.74 L356.02 66.74 L356.22 66.74 L356.41 66.74 L356.61 66.74 L356.80 66.74 L357.00 66.74 L357.19 66.74 L357.38 66.74 L357.58 66.74 L357.77 66.74 L357.97 66.74 L358.16 66.74 L358.36 66.74 L358.55 66.74 L358.75 66.74 L358.94 66.74 L359.14 66.74 L359.33 66.74 L359.53 66.74 L359.72 66.74 L359.92 66.74 L360.11 66.74 L360.31 66.74 L360.50 66.74 L360.70 66.74 L360.89 66.74 L361.09 66.74 L361.28 66.74 L361.48 66.74 L361.67 66.74 L361.87 66.74 L362.06 66.74 L362.25 66.74 L362.45 66.74 L362.64 66.74 L362.84 66.74 L363.03 66.74 L363.23 66.74 L363.42 66.74 L363.62 66.74 L363.81 66.74 L364.01 66.74 L364.20 66.74 L364.40 66.74 L364.59 66.74 L364.79 66.74 L364.98 66.74 L365.18 66.74 L365.37 66.74 L365.57 66.74 L365.76 66.74 L365.96 66.74 L366.15 66.74 L366.35 66.74 L366.54 66.74 L366.74 66.74 L366.93 66.74" fill="none" stroke="#00b000" stroke-width="1.3" stroke-dasharray="17.18 5.47"/>
<path d="M55.25 120.05 L366.93 13.43" fill="none" stroke="#0000ff" stroke-width="1.3" stroke-dasharray="10.82 5.33"/>
<path d="M55.25 66.74 L55.44 66.74 L55.64 66.74 L55.83 66.74 L56.03 66.74 L56.22 66.74 L56.42 66.74 L56.61 66.74 L56.81 66.74 L57.00 66.74 L57.20 66.74 L57.39 66.74 L57.59 66.74 L57.78 66.74 L57.98 66.74 L58.17 66.74 L58.37 66.74 L58.56 66.74 L58.76 66.74 L58.95 66.74 L59.15 66.74 L59.34 66.74 L59.54 66.74 L59.73 66.74 L59.93 66.74 L60.12 66.74 L60.31 66.74 L60.51 66.74 L60.70 66.74 L60.90 66.74 L61.09 66.74 L61.29 66.74 L61.48 66.74 L61.68 66.74 L61.87 66.74 L62.07 66.74 L62.26 66.74 L62.46 66.74 L62.65 66.74 L62.85 66.74 L63.04 66.74 L63.24 66.74 L63.43 66.74 L63.63 66.74 L63.82 66.74 L64.02 66.74 L64.21 66.74 L64.41 66.74 L64.60 66.74 L64.80 66.74 L64.99 66.74 L65.18 66.74 L65.38 66.74 L65.57 66.74 L65.77 66.74 L65.96 66.74 L66.16 66.74 L66.35 66.74 L66.55 66.74 L66.74 66.74 L66.94 66.74 L67.13 66.74 L67.33 66.74 L67.52 66.74 L67.72 66.74 L67.91 66.74 L68.11 66.74 L68.30 66.74 L68.50 66.74 L68.69 66.74 L68.89 66.74 L69.08 66.74 L69.28 66.74 L69.47 66.74 L69.67 66.74 L69.86 66.74 L70.05 66.74 L70.25 66.74 L70.44 66.74 L70.64 66.74 L70.83 66.74 L71.03 66.74 L71.22 66.74 L71.42 66.74 L71.61 66.74 L71.81 66.74 L72.00 66.74 L72.20 66.74 L72.39 66.74 L72.59 66.74 L72.78 66.74 L72.98 66.74 L73.17 66.74 L73.37 66.74 L73.56 66.74 L73.76 66.74 L73.95 66.74 L74.15 66.74 L74.34 66.74 L74.54 66.74 L74.73 66.74 L74.92 66.74 L75.12 66.74 L75.31 66.74 L75.51 66.74 L75.70 66.74 L75.90 66.74 L76.09 66.74 L76.29 66.74 L76.48 66.74 L76.68 66.74 L76.87 66.74 L77.07 66.74 L77.26 66.74 L77.46 66.74 L77.65 66.74 L77.85 66.74 L78.04 66.74 L78.24 66.74 L78.43 66.74 L78.63 66.74 L78.82 66.74 L79.02 66.74 L79.21 66.74 L79.41 66.74 L79.60 66.74 L79.79 66.74 L79.99 66.74 L80.18 66.74 L80.38 66.74 L80.57 66.74 L80.77 66.74 L80.96 66.74 L81.16 66.74 L81.35 66.74 L81.55 66.74 L81.74 66.74 L81.94 66.74 L82.13 66.74 L82.33 66.74 L82.52 66.74 L82.72 66.74 L82.91 66.74 L83.11 66.74 L83.30 66.74 L83.50 66.74 L83.69 66.74 L83.89 66.74 L84.08 66.74 L84.28 66.74 L84.47 66.74 L84.66 66.74 L84.86 66.74 L85.05 66.74 L85.25 66.74 L85.44 66.74 L85.64 66.74 L85.83 66.74 L86.03 66.74 L86.22 66.74 L86.42 66.74 L86.61 66.74 L86.81 66.74 L87.00 66.74 L87.20 66.74 L87.39 66.74 L87.59 66.74 L87.78 66.74 L87.98 66.74 L88.17 66.74 L88.37 66.74 L88.56 66.74 L88.76 66.74 L88.95 66.74 L89.15 66.74 L89.34 66.74 L89.53 66.74 L89.73 66.74 L89.92 66.74 L90.12 66.74 L90.31 66.74 L90.51 66.74 L90.70 66.74 L90.90 66.74 L91.09 66.74 L91.29 66.74 L91.48 66.74 L91.68 66.74 L91.87 66.74 L92.07 66.74 L92.26 66.74 L92.46 66.74 L92.65 66.74 L92.85 66.74 L93.04 66.74 L93.24 66.74 L93.43 66.74 L93.63 66.74 L93.82 66.74 L94.02 66.74 L94.21 66.74 L94.40 66.74 L94.60 66.74 L94.79 66.74 L94.99 66.74 L95.18 66.74 L95.38 66.74 L95.57 66.74 L95.77 66.74 L95.96 66.74 L96.16 66.74 L96.35 66.74 L96.55 66.74 L96.74 66.74 L96.94 66.74 L97.13 66.74 L97.33 66.74 L97.52 66.74 L97.72 66.74 L97.91 66.74 L98.11 66.74 L98.30 66.74 L98.50 66.74 L98.69 66.74 L98.89 66.75 L99.08 66.75 L99.27 66.75 L99.47 66.75 L99.66 66.75 L99.86 66.75 L100.05 66.75 L100.25 66.75 L100.44 66.75 L100.64 66.75 L100.83 66.75 L101.03 66.75 L101.22 66.75 L101.42 66.75 L101.61 66.75 L101.81 66.75 L102.00 66.75 L102.20 66.75 L102.39 66.75 L102.59 66.75 L102.78 66.75 L102.98 66.75 L103.17 66.75 L103.37 66.75 L103.56 66.75 L103.76 66.75 L103.95 66.75 L104.14 66.75 L104.34 66.75 L104.53 66.75 L104.73 66.75 L104.92 66.75 L105.12 66.75 L105.31 66.75 L105.51 66.75 L105.70 66.75 L105.90 66.75 L106.09 66.75 L106.29 66.75 L106.48 66.75 L106.68 66.75 L106.87 66.75 L107.07 66.75 L107.26 66.75 L107.46 66.75 L107.65 66.75 L107.85 66.75 L108.04 66.75 L108.24 66.75 L108.43 66.75 L108.63 66.75 L108.82 66.75 L109.01 66.75 L109.21 66.75 L109.40 66.75 L109.60 66.75 L109.79 66.75 L109.99 66.75 L110.18 66.75 L110.38 66.75 L110.57 66.75 L110.77 66.75 L110.96 66.75 L111.16 66.75 L111.35 66.75 L111.55 66.75 L111.74 66.75 L111.94 66.75 L112.13 66.75 L112.33 66.75 L112.52 66.75 L112.72 66.75 L112.91 66.75 L113.11 66.75 L113.30 66.75 L113.50 66.75 L113.69 66.75 L113.88 66.75 L114.08 66.75 L114.27 66.75 L114.47 66.75 L114.66 66.75 L114.86 66.75 L115.05 66.75 L115.25 66.75 L115.44 66.75 L115.64 66.75 L115.83 66.75 L116.03 66.75 L116.22 66.75 L116.42 66.75 L116.61 66.75 L116.81 66.75 L117.00 66.75 L117.20 66.75 L117.39 66.75 L117.59 66.75 L117.78 66.75 L117.98 66.75 L118.17 66.75 L118.37 66.75 L118.56 66.75 L118.75 66.75 L118.95 66.75 L119.14 66.75 L119.34 66.75 L119.53 66.75 L119.73 66.75 L119.92 66.75 L120.12 66.75 L120.31 66.75 L120.51 66.75 L120.70 66.76 L120.90 66.76 L121.09 66.76 L121.29 66.76 L121.48 66.76 L121.68 66.76 L121.87 66.76 L122.07 66.76 L122.26 66.76 L122.46 66.76 L122.65 66.76 L122.85 66.76 L123.04 66.76 L123.24 66.76 L123.43 66.76 L123.62 66.76 L123.82 66.76 L124.01 66.76 L124.21 66.76 L124.40 66.76 L124.60 66.76 L124.79 66.76 L124.99 66.76 L125.18 66.76 L125.38 66.76 L125.57 66.76 L125.77 66.76 L125.96 66.76 L126.16 66.76 L126.35 66.76 L126.55 66.76 L126.74 66.76 L126.94 66.76 L127.13 66.76 L127.33 66.76 L127.52 66.76 L127.72 66.76 L127.91 66.76 L128.11 66.76 L128.30 66.76 L128.49 66.76 L128.69 66.76 L128.88 66.76 L129.08 66.76 L129.27 66.76 L129.47 66.76 L129.66 66.76 L129.86 66.76 L130.05 66.77 L130.25 66.77 L130.44 66.77 L130.64 66.77 L130.83 66.77 L131.03 66.77 L131.22 66.77 L131.42 66.77 L131.61 66.77 L131.81 66.77 L132.00 66.77 L132.20 66.77 L132.39 66.77 L132.59 66.77 L132.78 66.77 L132.98 66.77 L133.17 66.77 L133.36 66.77 L133.56 66.77 L133.75 66.77 L133.95 66.77 L134.14 66.77 L134.34 66.77 L134.53 66.77 L134.73 66.77 L134.92 66.77 L135.12 66.77 L135.31 66.77 L135.51 66.77 L135.70 66.77 L135.90 66.78 L136.09 66.78 L136.29 66.78 L136.48 66.78 L136.68 66.78 L136.87 66.78 L137.07 66.78 L137.26 66.78 L137.46 66.78 L137.65 66.78 L137.85 66.78 L138.04 66.78 L138.23 66.78 L138.43 66.78 L138.62 66.78 L138.82 66.78 L139.01 66.78 L139.21 66.78 L139.40 66.78 L139.60 66.78 L139.79 66.78 L139.99 66.78 L140.18 66.78 L140.38 66.79 L140.57 66.79 L140.77 66.79 L140.96 66.79 L141.16 66.79 L141.35 66.79 L141.55 66.79 L141.74 66.79 L141.94 66.79 L142.13 66.79 L142.33 66.79 L142.52 66.79 L142.72 66.79 L142.91 66.79 L143.10 66.79 L143.30 66.79 L143.49 66.79 L143.69 66.80 L143.88 66.80 L144.08 66.80 L144.27 66.80 L144.47 66.80 L144.66 66.80 L144.86 66.80 L145.05 66.80 L145.25 66.80 L145.44 66.80 L145.64 66.80 L145.83 66.80 L146.03 66.80 L146.22 66.80 L146.42 66.80 L146.61 66.81 L146.81 66.81 L147.00 66.81 L147.20 66.81 L147.39 66.81 L147.59 66.81 L147.78 66.81 L147.97 66.81 L148.17 66.81 L148.36 66.81 L148.56 66.81 L148.75 66.81 L148.95 66.81 L149.14 66.82 L149.34 66.82 L149.53 66.82 L149.73 66.82 L149.92 66.82 L150.12 66.82 L150.31 66.82 L150.51 66.82 L150.70 66.82 L150.90 66.82 L151.09 66.82 L151.29 66.83 L151.48 66.83 L151.68 66.83 L151.87 66.83 L152.07 66.83 L152.26 66.83 L152.46 66.83 L152.65 66.83 L152.84 66.83 L153.04 66.83 L153.23 66.84 L153.43 66.84 L153.62 66.84 L153.82 66.84 L154.01 66.84 L154.21 66.84 L154.40 66.84 L154.60 66.84 L154.79 66.85 L154.99 66.85 L155.18 66.85 L155.38 66.85 L155.57 66.85 L155.77 66.85 L155.96 66.85 L156.16 66.85 L156.35 66.86 L156.55 66.86 L156.74 66.86 L156.94 66.86 L157.13 66.86 L157.33 66.86 L157.52 66.86 L157.71 66.86 L157.91 66.87 L158.10 66.87 L158.30 66.87 L158.49 66.87 L158.69 66.87 L158.88 66.87 L159.08 66.87 L159.27 66.88 L159.47 66.88 L159.66 66.88 L159.86 66.88 L160.05 66.88 L160.25 66.88 L160.44 66.89 L160.64 66.89 L160.83 66.89 L161.03 66.89 L161.22 66.89 L161.42 66.89 L161.61 66.90 L161.81 66.90 L162.00 66.90 L162.20 66.90 L162.39 66.90 L162.58 66.91 L162.78 66.91 L162.97 66.91 L163.17 66.91 L163.36 66.91 L163.56 66.92 L163.75 66.92 L163.95 66.92 L164.14 66.92 L164.34 66.92 L164.53 66.93 L164.73 66.93 L164.92 66.93 L165.12 66.93 L165.31 66.93 L165.51 66.94 L165.70 66.94 L165.90 66.94 L166.09 66.94 L166.29 66.95 L166.48 66.95 L166.68 66.95 L166.87 66.95 L167.07 66.96 L167.26 66.96 L167.45 66.96 L167.65 66.96 L167.84 66.97 L168.04 66.97 L168.23 66.97 L168.43 66.97 L168.62 66.98 L168.82 66.98 L169.01 66.98 L169.21 66.98 L169.40 66.99 L169.60 66.99 L169.79 66.99 L169.99 67.00 L170.18 67.00 L170.38 67.00 L170.57 67.00 L170.77 67.01 L170.96 67.01 L171.16 67.01 L171.35 67.02 L171.55 67.02 L171.74 67.02 L171.94 67.03 L172.13 67.03 L172.32 67.03 L172.52 67.04 L172.71 67.04 L172.91 67.04 L173.10 67.05 L173.30 67.05 L173.49 67.05 L173.69 67.06 L173.88 67.06 L174.08 67.06 L174.27 67.07 L174.47 67.07 L174.66 67.07 L174.86 67.08 L175.05 67.08 L175.25 67.09 L175.44 67.09 L175.64 67.09 L175.83 67.10 L176.03 67.10 L176.22 67.11 L176.42 67.11 L176.61 67.11 L176.81 67.12 L177.00 67.12 L177.19 67.13 L177.39 67.13 L177.58 67.14 L177.78 67.14 L177.97 67.15 L178.17 67.15 L178.36 67.15 L178.56 67.16 L178.75 67.16 L178.95 67.17 L179.14 67.17 L179.34 67.18 L179.53 67.18 L179.73 67.19 L179.92 67.19 L180.12 67.20 L180.31 67.20 L180.51 67.21 L180.70 67.21 L180.90 67.22 L181.09 67.22 L181.29 67.23 L181.48 67.24 L181.68 67.24 L181.87 67.25 L182.06 67.25 L182.26 67.26 L182.45 67.26 L182.65 67.27 L182.84 67.27 L183.04 67.28 L183.23 67.29 L183.43 67.29 L183.62 67.30 L183.82 67.30 L184.01 67.31 L184.21 67.32 L184.40 67.32 L184.60 67.33 L184.79 67.34 L184.99 67.34 L185.18 67.35 L185.38 67.36 L185.57 67.36 L185.77 67.37 L185.96 67.38 L186.16 67.38 L186.35 67.39 L186.55 67.40 L186.74 67.40 L186.93 67.41 L187.13 67.42 L187.32 67.42 L187.52 67.43 L187.71 67.44 L187.91 67.45 L188.10 67.45 L188.30 67.46 L188.49 67.47 L188.69 67.48 L188.88 67.48 L189.08 67.49 L189.27 67.50 L189.47 67.51 L189.66 67.51 L189.86 67.52 L190.05 67.53 L190.25 67.54 L190.44 67.55 L190.64 67.55 L190.83 67.56 L191.03 67.57 L191.22 67.58 L191.42 67.59 L191.61 67.59 L191.80 67.60 L192.00 67.61 L192.19 67.62 L192.39 67.63 L192.58 67.64 L192.78 67.64 L192.97 67.65 L193.17 67.66 L193.36 67.67 L193.56 67.68 L193.75 67.69 L193.95 67.69 L194.14 67.70 L194.34 67.71 L194.53 67.72 L194.73 67.73 L194.92 67.73 L195.12 67.74 L195.31 67.75 L195.51 67.76 L195.70 67.77 L195.90 67.78 L196.09 67.78 L196.29 67.79 L196.48 67.80 L196.67 67.81 L196.87 67.81 L197.06 67.82 L197.26 67.83 L197.45 67.84 L197.65 67.84 L197.84 67.85 L198.04 67.86 L198.23 67.86 L198.43 67.87 L198.62 67.88 L198.82 67.88 L199.01 67.89 L199.21 67.89 L199.40 67.90 L199.60 67.91 L199.79 67.91 L199.99 67.91 L200.18 67.92 L200.38 67.92 L200.57 67.93 L200.77 67.93 L200.96 67.93 L201.16 67.93 L201.35 67.94 L201.54 67.94 L201.74 67.94 L201.93 67.94 L202.13 67.94 L202.32 67.94 L202.52 67.94 L202.71 67.94 L202.91 67.93 L203.10 67.93 L203.30 67.93 L203.49 67.92 L203.69 67.92 L203.88 67.91 L204.08 67.90 L204.27 67.90 L204.47 67.89 L204.66 67.88 L204.86 67.87 L205.05 67.86 L205.25 67.84 L205.44 67.83 L205.64 67.82 L205.83 67.80 L206.03 67.78 L206.22 67.76 L206.41 67.74 L206.61 67.72 L206.80 67.70 L207.00 67.67 L207.19 67.65 L207.39 67.62 L207.58 67.59 L207.78 67.56 L207.97 67.53 L208.17 67.49 L208.36 67.46 L208.56 67.42 L208.75 67.38 L208.95 67.34 L209.14 67.30 L209.34 67.25 L209.53 67.20 L209.73 67.15 L209.92 67.10 L210.12 67.05 L210.31 66.99 L210.51 66.93 L210.70 66.87 L210.90 66.81 L211.09 66.74 L211.28 66.67 L211.48 66.60 L211.67 66.53 L211.87 66.46 L212.06 66.38 L212.26 66.30 L212.45 66.22 L212.65 66.13 L212.84 66.05 L213.04 65.96 L213.23 65.87 L213.43 65.78 L213.62 65.68 L213.82 65.59 L214.01 65.49 L214.21 65.39 L214.40 65.29 L214.60 65.18 L214.79 65.08 L214.99 64.97 L215.18 64.87 L215.38 64.76 L215.57 64.65 L215.77 64.54 L215.96 64.42 L216.15 64.31 L216.35 64.20 L216.54 64.09 L216.74 63.97 L216.93 63.86 L217.13 63.75 L217.32 63.63 L217.52 63.52 L217.71 63.41 L217.91 63.29 L218.10 63.18 L218.30 63.07 L218.49 62.96 L218.69 62.85 L218.88 62.74 L219.08 62.64 L219.27 62.53 L219.47 62.43 L219.66 62.33 L219.86 62.23 L220.05 62.13 L220.25 62.03 L220.44 61.94 L220.64 61.84 L220.83 61.75 L221.02 61.66 L221.22 61.58 L221.41 61.49 L221.61 61.41 L221.80 61.33 L222.00 61.25 L222.19 61.18 L222.39 61.11 L222.58 61.04 L222.78 60.97 L222.97 60.90 L223.17 60.84 L223.36 60.78 L223.56 60.72 L223.75 60.66 L223.95 60.61 L224.14 60.55 L224.34 60.50 L224.53 60.45 L224.73 60.41 L224.92 60.36 L225.12 60.32 L225.31 60.28 L225.51 60.24 L225.70 60.21 L225.89 60.17 L226.09 60.14 L226.28 60.11 L226.48 60.08 L226.67 60.05 L226.87 60.03 L227.06 60.00 L227.26 59.98 L227.45 59.96 L227.65 59.94 L227.84 59.92 L228.04 59.90 L228.23 59.88 L228.43 59.87 L228.62 59.85 L228.82 59.84 L229.01 59.83 L229.21 59.82 L229.40 59.81 L229.60 59.80 L229.79 59.79 L229.99 59.78 L230.18 59.78 L230.38 59.77 L230.57 59.77 L230.76 59.76 L230.96 59.76 L231.15 59.76 L231.35 59.76 L231.54 59.76 L231.74 59.75 L231.93 59.75 L232.13 59.75 L232.32 59.76 L232.52 59.76 L232.71 59.76 L232.91 59.76 L233.10 59.76 L233.30 59.77 L233.49 59.77 L233.69 59.77 L233.88 59.78 L234.08 59.78 L234.27 59.79 L234.47 59.79 L234.66 59.80 L234.86 59.80 L235.05 59.81 L235.25 59.82 L235.44 59.82 L235.63 59.83 L235.83 59.84 L236.02 59.84 L236.22 59.85 L236.41 59.86 L236.61 59.86 L236.80 59.87 L237.00 59.88 L237.19 59.89 L237.39 59.89 L237.58 59.90 L237.78 59.91 L237.97 59.92 L238.17 59.93 L238.36 59.93 L238.56 59.94 L238.75 59.95 L238.95 59.96 L239.14 59.97 L239.34 59.97 L239.53 59.98 L239.73 59.99 L239.92 60.00 L240.12 60.01 L240.31 60.02 L240.50 60.02 L240.70 60.03 L240.89 60.04 L241.09 60.05 L241.28 60.06 L241.48 60.07 L241.67 60.07 L241.87 60.08 L242.06 60.09 L242.26 60.10 L242.45 60.11 L242.65 60.12 L242.84 60.12 L243.04 60.13 L243.23 60.14 L243.43 60.15 L243.62 60.16 L243.82 60.16 L244.01 60.17 L244.21 60.18 L244.40 60.19 L244.60 60.19 L244.79 60.20 L244.99 60.21 L245.18 60.22 L245.37 60.22 L245.57 60.23 L245.76 60.24 L245.96 60.25 L246.15 60.25 L246.35 60.26 L246.54 60.27 L246.74 60.28 L246.93 60.28 L247.13 60.29 L247.32 60.30 L247.52 60.30 L247.71 60.31 L247.91 60.32 L248.10 60.32 L248.30 60.33 L248.49 60.34 L248.69 60.34 L248.88 60.35 L249.08 60.36 L249.27 60.36 L249.47 60.37 L249.66 60.38 L249.86 60.38 L250.05 60.39 L250.24 60.39 L250.44 60.40 L250.63 60.41 L250.83 60.41 L251.02 60.42 L251.22 60.42 L251.41 60.43 L251.61 60.44 L251.80 60.44 L252.00 60.45 L252.19 60.45 L252.39 60.46 L252.58 60.46 L252.78 60.47 L252.97 60.47 L253.17 60.48 L253.36 60.48 L253.56 60.49 L253.75 60.50 L253.95 60.50 L254.14 60.51 L254.34 60.51 L254.53 60.52 L254.73 60.52 L254.92 60.52 L255.11 60.53 L255.31 60.53 L255.50 60.54 L255.70 60.54 L255.89 60.55 L256.09 60.55 L256.28 60.56 L256.48 60.56 L256.67 60.57 L256.87 60.57 L257.06 60.57 L257.26 60.58 L257.45 60.58 L257.65 60.59 L257.84 60.59 L258.04 60.60 L258.23 60.60 L258.43 60.60 L258.62 60.61 L258.82 60.61 L259.01 60.62 L259.21 60.62 L259.40 60.62 L259.60 60.63 L259.79 60.63 L259.98 60.63 L260.18 60.64 L260.37 60.64 L260.57 60.64 L260.76 60.65 L260.96 60.65 L261.15 60.65 L261.35 60.66 L261.54 60.66 L261.74 60.66 L261.93 60.67 L262.13 60.67 L262.32 60.67 L262.52 60.68 L262.71 60.68 L262.91 60.68 L263.10 60.69 L263.30 60.69 L263.49 60.69 L263.69 60.70 L263.88 60.70 L264.08 60.70 L264.27 60.70 L264.47 60.71 L264.66 60.71 L264.85 60.71 L265.05 60.72 L265.24 60.72 L265.44 60.72 L265.63 60.72 L265.83 60.73 L266.02 60.73 L266.22 60.73 L266.41 60.73 L266.61 60.74 L266.80 60.74 L267.00 60.74 L267.19 60.74 L267.39 60.75 L267.58 60.75 L267.78 60.75 L267.97 60.75 L268.17 60.76 L268.36 60.76 L268.56 60.76 L268.75 60.76 L268.95 60.76 L269.14 60.77 L269.34 60.77 L269.53 60.77 L269.72 60.77 L269.92 60.77 L270.11 60.78 L270.31 60.78 L270.50 60.78 L270.70 60.78 L270.89 60.78 L271.09 60.79 L271.28 60.79 L271.48 60.79 L271.67 60.79 L271.87 60.79 L272.06 60.80 L272.26 60.80 L272.45 60.80 L272.65 60.80 L272.84 60.80 L273.04 60.80 L273.23 60.81 L273.43 60.81 L273.62 60.81 L273.82 60.81 L274.01 60.81 L274.21 60.81 L274.40 60.82 L274.59 60.82 L274.79 60.82 L274.98 60.82 L275.18 60.82 L275.37 60.82 L275.57 60.83 L275.76 60.83 L275.96 60.83 L276.15 60.83 L276.35 60.83 L276.54 60.83 L276.74 60.83 L276.93 60.84 L277.13 60.84 L277.32 60.84 L277.52 60.84 L277.71 60.84 L277.91 60.84 L278.10 60.84 L278.30 60.84 L278.49 60.85 L278.69 60.85 L278.88 60.85 L279.08 60.85 L279.27 60.85 L279.46 60.85 L279.66 60.85 L279.85 60.85 L280.05 60.85 L280.24 60.86 L280.44 60.86 L280.63 60.86 L280.83 60.86 L281.02 60.86 L281.22 60.86 L281.41 60.86 L281.61 60.86 L281.80 60.86 L282.00 60.87 L282.19 60.87 L282.39 60.87 L282.58 60.87 L282.78 60.87 L282.97 60.87 L283.17 60.87 L283.36 60.87 L283.56 60.87 L283.75 60.87 L283.95 60.88 L284.14 60.88 L284.33 60.88 L284.53 60.88 L284.72 60.88 L284.92 60.88 L285.11 60.88 L285.31 60.88 L285.50 60.88 L285.70 60.88 L285.89 60.88 L286.09 60.88 L286.28 60.89 L286.48 60.89 L286.67 60.89 L286.87 60.89 L287.06 60.89 L287.26 60.89 L287.45 60.89 L287.65 60.89 L287.84 60.89 L288.04 60.89 L288.23 60.89 L288.43 60.89 L288.62 60.89 L288.82 60.89 L289.01 60.90 L289.20 60.90 L289.40 60.90 L289.59 60.90 L289.79 60.90 L289.98 60.90 L290.18 60.90 L290.37 60.90 L290.57 60.90 L290.76 60.90 L290.96 60.90 L291.15 60.90 L291.35 60.90 L291.54 60.90 L291.74 60.90 L291.93 60.90 L292.13 60.91 L292.32 60.91 L292.52 60.91 L292.71 60.91 L292.91 60.91 L293.10 60.91 L293.30 60.91 L293.49 60.91 L293.69 60.91 L293.88 60.91 L294.07 60.91 L294.27 60.91 L294.46 60.91 L294.66 60.91 L294.85 60.91 L295.05 60.91 L295.24 60.91 L295.44 60.91 L295.63 60.91 L295.83 60.91 L296.02 60.91 L296.22 60.92 L296.41 60.92 L296.61 60.92 L296.80 60.92 L297.00 60.92 L297.19 60.92 L297.39 60.92 L297.58 60.92 L297.78 60.92 L297.97 60.92 L298.17 60.92 L298.36 60.92 L298.56 60.92 L298.75 60.92 L298.94 60.92 L299.14 60.92 L299.33 60.92 L299.53 60.92 L299.72 60.92 L299.92 60.92 L300.11 60.92 L300.31 60.92 L300.50 60.92 L300.70 60.92 L300.89 60.92 L301.09 60.92 L301.28 60.93 L301.48 60.93 L301.67 60.93 L301.87 60.93 L302.06 60.93 L302.26 60.93 L302.45 60.93 L302.65 60.93 L302.84 60.93 L303.04 60.93 L303.23 60.93 L303.43 60.93 L303.62 60.93 L303.81 60.93 L304.01 60.93 L304.20 60.93 L304.40 60.93 L304.59 60.93 L304.79 60.93 L304.98 60.93 L305.18 60.93 L305.37 60.93 L305.57 60.93 L305.76 60.93 L305.96 60.93 L306.15 60.93 L306.35 60.93 L306.54 60.93 L306.74 60.93 L306.93 60.93 L307.13 60.93 L307.32 60.93 L307.52 60.93 L307.71 60.93 L307.91 60.93 L308.10 60.93 L308.30 60.93 L308.49 60.93 L308.68 60.94 L308.88 60.94 L309.07 60.94 L309.27 60.94 L309.46 60.94 L309.66 60.94 L309.85 60.94 L310.05 60.94 L310.24 60.94 L310.44 60.94 L310.63 60.94 L310.83 60.94 L311.02 60.94 L311.22 60.94 L311.41 60.94 L311.61 60.94 L311.80 60.94 L312.00 60.94 L312.19 60.94 L312.39 60.94 L312.58 60.94 L312.78 60.94 L312.97 60.94 L313.17 60.94 L313.36 60.94 L313.55 60.94 L313.75 60.94 L313.94 60.94 L314.14 60.94 L314.33 60.94 L314.53 60.94 L314.72 60.94 L314.92 60.94 L315.11 60.94 L315.31 60.94 L315.50 60.94 L315.70 60.94 L315.89 60.94 L316.09 60.94 L316.28 60.94 L316.48 60.94 L316.67 60.94 L316.87 60.94 L317.06 60.94 L317.26 60.94 L317.45 60.94 L317.65 60.94 L317.84 60.94 L318.04 60.94 L318.23 60.94 L318.42 60.94 L318.62 60.94 L318.81 60.94 L319.01 60.94 L319.20 60.94 L319.40 60.94 L319.59 60.94 L319.79 60.94 L319.98 60.94 L320.18 60.94 L320.37 60.94 L320.57 60.94 L320.76 60.94 L320.96 60.94 L321.15 60.94 L321.35 60.94 L321.54 60.94 L321.74 60.94 L321.93 60.94 L322.13 60.95 L322.32 60.95 L322.52 60.95 L322.71 60.95 L322.91 60.95 L323.10 60.95 L323.29 60.95 L323.49 60.95 L323.68 60.95 L323.88 60.95 L324.07 60.95 L324.27 60.95 L324.46 60.95 L324.66 60.95 L324.85 60.95 L325.05 60.95 L325.24 60.95 L325.44 60.95 L325.63 60.95 L325.83 60.95 L326.02 60.95 L326.22 60.95 L326.41 60.95 L326.61 60.95 L326.80 60.95 L327.00 60.95 L327.19 60.95 L327.39 60.95 L327.58 60.95 L327.78 60.95 L327.97 60.95 L328.16 60.95 L328.36 60.95 L328.55 60.95 L328.75 60.95 L328.94 60.95 L329.14 60.95 L329.33 60.95 L329.53 60.95 L329.72 60.95 L329.92 60.95 L330.11 60.95 L330.31 60.95 L330.50 60.95 L330.70 60.95 L330.89 60.95 L331.09 60.95 L331.28 60.95 L331.48 60.95 L331.67 60.95 L331.87 60.95 L332.06 60.95 L332.26 60.95 L332.45 60.95 L332.65 60.95 L332.84 60.95 L333.03 60.95 L333.23 60.95 L333.42 60.95 L333.62 60.95 L333.81 60.95 L334.01 60.95 L334.20 60.95 L334.40 60.95 L334.59 60.95 L334.79 60.95 L334.98 60.95 L335.18 60.95 L335.37 60.95 L335.57 60.95 L335.76 60.95 L335.96 60.95 L336.15 60.95 L336.35 60.95 L336.54 60.95 L336.74 60.95 L336.93 60.95 L337.13 60.95 L337.32 60.95 L337.52 60.95 L337.71 60.95 L337.90 60.95 L338.10 60.95 L338.29 60.95 L338.49 60.95 L338.68 60.95 L338.88 60.95 L339.07 60.95 L339.27 60.95 L339.46 60.95 L339.66 60.95 L339.85 60.95 L340.05 60.95 L340.24 60.95 L340.44 60.95 L340.63 60.95 L340.83 60.95 L341.02 60.95 L341.22 60.95 L341.41 60.95 L341.61 60.95 L341.80 60.95 L342.00 60.95 L342.19 60.95 L342.39 60.95 L342.58 60.95 L342.77 60.95 L342.97 60.95 L343.16 60.95 L343.36 60.95 L343.55 60.95 L343.75 60.95 L343.94 60.95 L344.14 60.95 L344.33 60.95 L344.53 60.95 L344.72 60.95 L344.92 60.95 L345.11 60.95 L345.31 60.95 L345.50 60.95 L345.70 60.95 L345.89 60.95 L346.09 60.95 L346.28 60.95 L346.48 60.95 L346.67 60.95 L346.87 60.95 L347.06 60.95 L347.26 60.95 L347.45 60.95 L347.64 60.95 L347.84 60.95 L348.03 60.95 L348.23 60.95 L348.42 60.95 L348.62 60.95 L348.81 60.95 L349.01 60.95 L349.20 60.95 L349.40 60.95 L349.59 60.95 L349.79 60.95 L349.98 60.95 L350.18 60.95 L350.37 60.95 L350.57 60.95 L350.76 60.95 L350.96 60.95 L351.15 60.95 L351.35 60.95 L351.54 60.95 L351.74 60.95 L351.93 60.95 L352.13 60.95 L352.32 60.95 L352.51 60.95 L352.71 60.95 L352.90 60.95 L353.10 60.95 L353.29 60.95 L353.49 60.95 L353.68 60.95 L353.88 60.95 L354.07 60.95 L354.27 60.95 L354.46 60.95 L354.66 60.95 L354.85 60.95 L355.05 60.95 L355.24 60.95 L355.44 60.95 L355.63 60.95 L355.83 60.95 L356.02 60.95 L356.22 60.95 L356.41 60.95 L356.61 60.95 L356.80 60.95 L357.00 60.95 L357.19 60.95 L357.38 60.95 L357.58 60.95 L357.77 60.95 L357.97 60.95 L358.16 60.95 L358.36 60.95 L358.55 60.95 L358.75 60.95 L358.94 60.95 L359.14 60.95 L359.33 60.95 L359.53 60.95 L359.72 60.95 L359.92 60.95 L360.11 60.95 L360.31 60.95 L360.50 60.95 L360.70 60.95 L360.89 60.95 L361.09 60.95 L361.28 60.95 L361.48 60.95 L361.67 60.95 L361.87 60.95 L362.06 60.95 L362.25 60.95 L362.45 60.95 L362.64 60.95 L362.84 60.95 L363.03 60.95 L363.23 60.95 L363.42 60.95 L363.62 60.95 L363.81 60.95 L364.01 60.95 L364.20 60.95 L364.40 60.95 L364.59 60.95 L364.79 60.95 L364.98 60.95 L365.18 60.95 L365.37 60.95 L365.57 60.95 L365.76 60.95 L365.96 60.95 L366.15 60.95 L366.35 60.95 L366.54 60.95 L366.74 60.95 L366.93 60.95" fill="none" stroke="#ff00ff" stroke-width="1.3" stroke-dasharray="4.54 5.16"/>
</g>
<g id="frame" stroke="#666666" stroke-width="0.8" fill="none">
<rect x="49.00" y="3.45" width="324.00" height="199.95"/>
</g>
<g id="ticks" stroke="#666" stroke-width="0.55">
<line x1="49.00" y1="191.50" x2="50.90" y2="191.50"/>
<line x1="373.00" y1="191.50" x2="371.10" y2="191.50"/>
<line x1="49.00" y1="180.50" x2="50.90" y2="180.50"/>
<line x1="373.00" y1="180.50" x2="371.10" y2="180.50"/>
<line x1="49.00" y1="168.50" x2="52.00" y2="168.50"/>
<line x1="373.00" y1="168.50" x2="370.00" y2="168.50"/>
<line x1="49.00" y1="157.50" x2="50.90" y2="157.50"/>
<line x1="373.00" y1="157.50" x2="371.10" y2="157.50"/>
<line x1="49.00" y1="145.50" x2="50.90" y2="145.50"/>
<line x1="373.00" y1="145.50" x2="371.10" y2="145.50"/>
<line x1="49.00" y1="133.50" x2="50.90" y2="133.50"/>
<line x1="373.00" y1="133.50" x2="371.10" y2="133.50"/>
<line x1="49.00" y1="122.50" x2="50.90" y2="122.50"/>
<line x1="373.00" y1="122.50" x2="371.10" y2="122.50"/>
<line x1="49.00" y1="110.50" x2="52.00" y2="110.50"/>
<line x1="373.00" y1="110.50" x2="370.00" y2="110.50"/>
<line x1="49.00" y1="99.50" x2="50.90" y2="99.50"/>
<line x1="373.00" y1="99.50" x2="371.10" y2="99.50"/>
<line x1="49.00" y1="87.50" x2="50.90" y2="87.50"/>
<line x1="373.00" y1="87.50" x2="371.10" y2="87.50"/>
<line x1="49.00" y1="76.50" x2="50.90" y2="76.50"/>
<line x1="373.00" y1="76.50" x2="371.10" y2="76.50"/>
<line x1="49.00" y1="64.50" x2="50.90" y2="64.50"/>
<line x1="373.00" y1="64.50" x2="371.10" y2="64.50"/>
<line x1="49.00" y1="52.50" x2="52.00" y2="52.50"/>
<line x1="373.00" y1="52.50" x2="370.00" y2="52.50"/>
<line x1="49.00" y1="41.50" x2="50.90" y2="41.50"/>
<line x1="373.00" y1="41.50" x2="371.10" y2="41.50"/>
<line x1="49.00" y1="29.50" x2="50.90" y2="29.50"/>
<line x1="373.00" y1="29.50" x2="371.10" y2="29.50"/>
<line x1="49.00" y1="18.50" x2="50.90" y2="18.50"/>
<line x1="373.00" y1="18.50" x2="371.10" y2="18.50"/>
<line x1="49.00" y1="6.50" x2="50.90" y2="6.50"/>
<line x1="373.00" y1="6.50" x2="371.10" y2="6.50"/>
</g>
<g id="xticks" stroke="#666" stroke-width="0.25">
<line x1="55.50" y1="203.40" x2="55.50" y2="201.40"/>
<line x1="55.50" y1="3.45" x2="55.50" y2="5.45"/>
<line x1="94.50" y1="203.40" x2="94.50" y2="199.90"/>
<line x1="94.50" y1="3.45" x2="94.50" y2="6.95"/>
<line x1="133.50" y1="203.40" x2="133.50" y2="201.40"/>
<line x1="133.50" y1="3.45" x2="133.50" y2="5.45"/>
<line x1="172.50" y1="203.40" x2="172.50" y2="199.90"/>
<line x1="172.50" y1="3.45" x2="172.50" y2="6.95"/>
<line x1="211.50" y1="203.40" x2="211.50" y2="201.40"/>
<line x1="211.50" y1="3.45" x2="211.50" y2="5.45"/>
<line x1="250.50" y1="203.40" x2="250.50" y2="199.90"/>
<line x1="250.50" y1="3.45" x2="250.50" y2="6.95"/>
<line x1="289.50" y1="203.40" x2="289.50" y2="201.40"/>
<line x1="289.50" y1="3.45" x2="289.50" y2="5.45"/>
<line x1="327.50" y1="203.40" x2="327.50" y2="199.90"/>
<line x1="327.50" y1="3.45" x2="327.50" y2="6.95"/>
<line x1="366.50" y1="203.40" x2="366.50" y2="201.40"/>
<line x1="366.50" y1="3.45" x2="366.50" y2="5.45"/>
</g>
<g id="labels">
<text x="45.9" y="57.75" text-anchor="end" font-size="14.3">0</text>
<text x="45.9" y="116.13" text-anchor="end" font-size="14.3">5</text>
<text x="45.9" y="173.21" text-anchor="end" font-size="14.3">10</text>
<text x="36.7" y="116.83" text-anchor="end" font-size="15">−</text>
<text x="29.8" y="174.41" text-anchor="end" font-size="15">−</text>
<text x="93.81" y="219" text-anchor="middle" font-size="14.3">0.001</text>
<text x="172.33" y="219" text-anchor="middle" font-size="14.3" letter-spacing="0.33">0.100</text>
<text x="249.65" y="219" text-anchor="middle" font-size="14.3">10</text>
<text x="327.57" y="219" text-anchor="middle" font-size="14.3">1000</text>
<text x="198.9" y="239.9" font-size="14.3">1</text>
<text x="207.1" y="241.8" font-size="16.3">+</text>
<text x="216.2" y="239.9" font-size="14.3">z</text>
<text transform="translate(12.5 103.7) rotate(-90)" text-anchor="middle" font-size="13.9">w(z)</text>
</g>
<g id="legend">
<path d="M210.2 104.10 L250.9 104.10" fill="none" stroke="#8a8a8a" stroke-width="1.3"/>
<text x="257.6" y="108.70" font-size="10.5" font-style="italic">wCDM (w<tspan font-size="9.0" dy="3.4" dx="0">0</tspan><tspan dy="-3.4" dx="1.6">=</tspan><tspan dx="-1.2">−</tspan><tspan dx="0.3">1.2)</tspan></text>
<path d="M210.2 124.90 L250.9 124.90" fill="none" stroke="#ff0000" stroke-width="1.3" stroke-dasharray="25.8 6.2" stroke-dashoffset="0"/>
<text x="257.6" y="129.50" font-size="10.5" font-style="italic">CPL (w<tspan font-size="9.0" dy="3.4" dx="0">0</tspan><tspan dy="-3.4" dx="1.6">=</tspan><tspan dx="-1.2">−</tspan><tspan dx="0.3">1.2,</tspan><tspan dx="0.5"> w</tspan><tspan font-size="9.6" dy="2.8" dx="0.2">a</tspan><tspan dy="-2.8" dx="0.9">=</tspan><tspan dx="-0.8">0.5)</tspan></text>
<path d="M210.2 145.60 L250.9 145.60" fill="none" stroke="#00b000" stroke-width="1.3" stroke-dasharray="18.4 6.4" stroke-dashoffset="0"/>
<text x="257.6" y="150.20" font-size="10.5" font-style="italic">JBP (w<tspan font-size="9.0" dy="3.4" dx="0">0</tspan><tspan dy="-3.4" dx="1.6">=</tspan><tspan dx="-1.2">−</tspan><tspan dx="0.3">1.2,</tspan><tspan dx="0.5"> w</tspan><tspan font-size="9.6" dy="2.8" dx="0.2">a</tspan><tspan dy="-2.8" dx="0.9">=</tspan><tspan dx="-0.8">0.5)</tspan></text>
<path d="M210.2 166.40 L250.9 166.40" fill="none" stroke="#0000ff" stroke-width="1.3" stroke-dasharray="12.3 5.4" stroke-dashoffset="0"/>
<text x="257.6" y="171.00" font-size="10.5" font-style="italic">Log (w<tspan font-size="9.0" dy="3.4" dx="0">0</tspan><tspan dy="-3.4" dx="1.6">=</tspan><tspan dx="-1.2">−</tspan><tspan dx="0.3">1.2,</tspan><tspan dx="0.5"> w</tspan><tspan font-size="9.6" dy="2.8" dx="0.2">a</tspan><tspan dy="-2.8" dx="0.9">=</tspan><tspan dx="-0.8">0.5)</tspan></text>
<path d="M210.2 187.10 L250.9 187.10" fill="none" stroke="#ff00ff" stroke-width="1.3" stroke-dasharray="5.4 5.1" stroke-dashoffset="0"/>
<text x="257.6" y="191.70" font-size="10.5" font-style="italic">BA (w<tspan font-size="9.0" dy="3.4" dx="0">0</tspan><tspan dy="-3.4" dx="1.6">=</tspan><tspan dx="-1.2">−</tspan><tspan dx="0.3">1.2,</tspan><tspan dx="0.5"> w</tspan><tspan font-size="9.6" dy="2.8" dx="0.2">a</tspan><tspan dy="-2.8" dx="0.9">=</tspan><tspan dx="-0.8">0.5)</tspan></text>
</g>
</svg>
</body></html>
